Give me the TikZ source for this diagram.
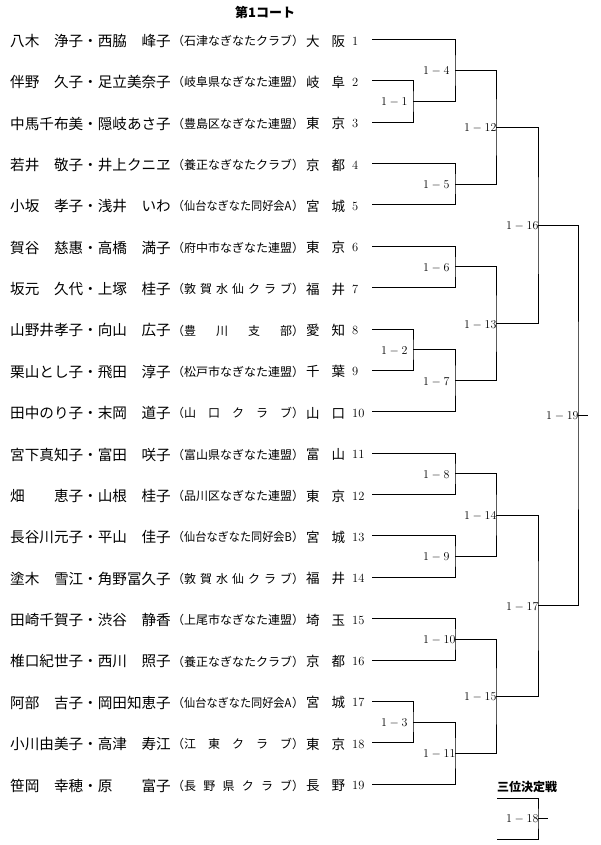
\documentclass[tikz,border=0pt]{standalone}
\usepackage{fontspec}
\newfontfamily\jp{Noto Sans CJK JP}
\usetikzlibrary{positioning,calc}

\tikzset{
  player/.style={anchor=west,inner sep=0pt,font=\jp\fontsize{14.6}{16}\selectfont},
  club/.style={anchor=west,inner sep=0pt,font=\jp\fontsize{12}{14}\selectfont},
  pref/.style={anchor=west,inner sep=0pt,font=\jp\fontsize{13.5}{15}\selectfont},
  seed/.style={anchor=west,inner sep=0pt,font=\fontsize{12.5}{14}\selectfont},
  game/.style={anchor=west,inner sep=0pt,font=\fontsize{12.5}{14}\selectfont},
  heading/.style={anchor=west,inner sep=0pt,font=\jp\bfseries\fontsize{13}{15}\selectfont},
  bracket/.style={line width=0.9pt},
}

\begin{document}
\begin{tikzpicture}[x=1pt,y=-1pt]
    \useasboundingbox (0,0) rectangle (600,845);
    \node[heading] (court) at (235,12.5) {第1コート};
    \foreach \k/\nm/\cl/\pa/\pb in {
        1/{八木　浄子・西脇　峰子}/{石津なぎなたクラブ}/大/阪,
        2/{伴野　久子・足立美奈子}/{岐阜県なぎなた連盟}/岐/阜,
        3/{中馬千布美・隠岐あさ子}/{豊島区なぎなた連盟}/東/京,
        4/{若井　敬子・井上クニヱ}/{養正なぎなたクラブ}/京/都,
        5/{小坂　孝子・浅井　いわ}/{\scalebox{0.93}[1]{仙台なぎなた同好会A}}/宮/城,
        6/{賀谷　慈惠・高橋　満子}/{府中市なぎなた連盟}/東/京,
        7/{坂元　久代・上塚　桂子}/{敦\hfill 賀\hfill 水\hfill 仙\hfill ク\hfill ラ\hfill ブ}/福/井,
        8/{山野井孝子・向山　広子}/{豊\hfill 川\hfill 支\hfill 部}/愛/知,
        9/{栗山とし子・飛田　淳子}/{松戸市なぎなた連盟}/千/葉,
        10/{田中のり子・末岡　道子}/{山\hfill 口\hfill ク\hfill ラ\hfill ブ}/山/口,
        11/{宮下真知子・富田　咲子}/{富山県なぎなた連盟}/富/山,
        12/{畑　　恵子・山根　桂子}/{品川区なぎなた連盟}/東/京,
        13/{長谷川元子・平山　佳子}/{\scalebox{0.93}[1]{仙台なぎなた同好会B}}/宮/城,
        14/{塗木　雪江・角野冨久子}/{敦\hfill 賀\hfill 水\hfill 仙\hfill ク\hfill ラ\hfill ブ}/福/井,
        15/{田崎千賀子・渋谷　静香}/{上尾市なぎなた連盟}/埼/玉,
        16/{椎口紀世子・西川　照子}/{養正なぎなたクラブ}/京/都,
        17/{阿部　吉子・岡田知恵子}/{\scalebox{0.93}[1]{仙台なぎなた同好会A}}/宮/城,
        18/{小川由美子・高津　寿江}/{江\hfill 東\hfill ク\hfill ラ\hfill ブ}/東/京,
        19/{笹岡　幸穂・原　　富子}/{長\hfill 野\hfill 県\hfill ク\hfill ラ\hfill ブ}/長/野}{
        \pgfmathsetmacro\yy{39.4+41.37*(\k-1)}
        \coordinate (r\k) at (372,\yy);
        \node[player] (p\k) at (10,\yy+1.5) {\nm};
        \node[club] (c\k) at (172,\yy+1.5) {（\makebox[108pt][s]{\cl}）};
        \node[pref] (f\k) at (306,\yy+1.5) {\makebox[39pt][s]{\pa\hfill\pb}};
        \node[seed] (n\k) at (352,\yy+1.5) {\k};
    }
    \foreach \m/\xx/\a/\b in {1/413/r2/r3, 2/413/r8/r9, 3/413/r17/r18,
        4/455/r1/j1, 5/455/r4/r5, 6/455/r6/r7, 7/455/j2/r10, 8/455/r11/r12,
        9/455/r13/r14, 10/455/r15/r16, 11/455/j3/r19,
        12/496/j4/j5, 13/496/j6/j7, 14/496/j8/j9, 15/496/j10/j11,
        16/538/j12/j13, 17/538/j14/j15, 19/578/j16/j17}{
        \path let \p1=(\a), \p2=(\b) in coordinate (j\m) at (\xx pt,{(\y1+\y2)/2});
        \draw[bracket] (\a) -| (j\m) |- (\b);
        \node[game] (m\m) at ([xshift=-32pt,yshift=-1pt]j\m) {$1-\m$};
    }
    \coordinate (t19) at ([xshift=10pt]j19);
    \draw[bracket] (j19) -- (t19);
    \node[heading,font=\jp\bfseries\fontsize{12}{14}\selectfont] (third) at (497,787) {三位決定戦};
    \coordinate (a18) at (497,798);
    \coordinate (b18) at (497,839);
    \coordinate (j18) at (538,818.5);
    \coordinate (t18) at ([xshift=10pt]j18);
    \draw[bracket] (a18) -| (j18) |- (b18);
    \draw[bracket] (j18) -- (t18);
    \node[game] (m18) at ([xshift=-32pt,yshift=-1pt]j18) {$1-18$};
\end{tikzpicture}
\end{document}
